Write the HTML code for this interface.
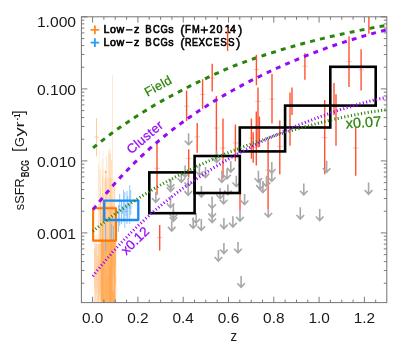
<!DOCTYPE html>
<html><head><meta charset="utf-8"><title>sSFR BCG</title>
<style>
html,body{margin:0;padding:0;background:#fff;}
body{width:407px;height:356px;overflow:hidden;font-family:"Liberation Sans",sans-serif;}
svg{display:block;will-change:transform;}
</style></head><body>
<svg width="407" height="356" viewBox="0 0 407 356">
<rect x="0" y="0" width="407" height="356" fill="#fff"/>
<defs><clipPath id="cp"><rect x="81.4" y="16.8" width="305.4" height="285.8"/></clipPath></defs>
<g stroke-width="1.8" fill="none">
<path d="M90.6 29.9 H99.2 M94.9 25.6 V34.2" stroke="#ff8a1e"/>
<path d="M90.6 42.6 H99.2 M94.9 38.3 V46.9" stroke="#2a9cf5"/>
</g>
<g font-family="'Liberation Sans', sans-serif" font-size="10.7" fill="#000" stroke="#000" stroke-width="0.62" stroke-linejoin="round">
<path d="M125.9 29.9 H132.5 M125.9 42.4 H132.5 M200.7 30.0 H207.9 M204.3 26.4 V33.6" stroke-width="1.35" fill="none"/>
<text transform="translate(103.40 33.4) scale(1.00 1)">L</text>
<text transform="translate(109.92 33.4) scale(1.00 1)">o</text>
<text transform="translate(116.60 33.4) scale(1.00 1)">w</text>
<text transform="translate(133.98 33.4) scale(1.00 1)">z</text>
<text transform="translate(145.28 33.4) scale(0.90 1)">B</text>
<text transform="translate(152.93 33.4) scale(0.88 1)">C</text>
<text transform="translate(160.38 33.4) scale(0.88 1)">G</text>
<text transform="translate(168.33 33.4) scale(1.00 1)">s</text>
<text transform="translate(180.23 34.4)" font-size="12.8" stroke-width="0.5">(</text>
<text transform="translate(184.93 33.4) scale(0.90 1)">F</text>
<text transform="translate(192.00 33.4) scale(0.87 1)">M</text>
<text transform="translate(209.38 33.4) scale(1.00 1)">2</text>
<text transform="translate(216.62 33.4) scale(1.00 1)">0</text>
<text transform="translate(224.82 33.4) scale(1.00 1)">1</text>
<text transform="translate(229.93 33.4) scale(1.00 1)">4</text>
<text transform="translate(238.02 34.4)" font-size="12.8" stroke-width="0.5">)</text>
<text transform="translate(103.40 45.9) scale(1.00 1)">L</text>
<text transform="translate(109.92 45.9) scale(1.00 1)">o</text>
<text transform="translate(116.60 45.9) scale(1.00 1)">w</text>
<text transform="translate(133.98 45.9) scale(1.00 1)">z</text>
<text transform="translate(145.28 45.9) scale(0.90 1)">B</text>
<text transform="translate(152.93 45.9) scale(0.88 1)">C</text>
<text transform="translate(160.38 45.9) scale(0.88 1)">G</text>
<text transform="translate(168.33 45.9) scale(1.00 1)">s</text>
<text transform="translate(180.23 46.9)" font-size="12.8" stroke-width="0.5">(</text>
<text transform="translate(184.98 45.9) scale(0.84 1)">R</text>
<text transform="translate(191.88 45.9) scale(0.84 1)">E</text>
<text transform="translate(198.45 45.9) scale(0.92 1)">X</text>
<text transform="translate(205.53 45.9) scale(0.88 1)">C</text>
<text transform="translate(213.38 45.9) scale(0.84 1)">E</text>
<text transform="translate(220.31 45.9) scale(0.92 1)">S</text>
<text transform="translate(227.91 45.9) scale(0.92 1)">S</text>
<text transform="translate(235.92 46.9)" font-size="12.8" stroke-width="0.5">)</text>
</g>
<g clip-path="url(#cp)">
<g stroke="#ff9a30" stroke-width="0.8" fill="none">
<rect x="100.9" y="240" width="15.3" height="63" fill="#ffb266" stroke="none" opacity="0.92"/>
<line x1="105.9" y1="197.5" x2="105.9" y2="310.0" opacity="0.20"/>
<line x1="102.1" y1="216.8" x2="102.1" y2="310.0" opacity="0.16"/>
<line x1="101.9" y1="215.4" x2="101.9" y2="310.0" opacity="0.11"/>
<line x1="107.5" y1="193.5" x2="107.5" y2="310.0" opacity="0.11"/>
<line x1="107.4" y1="231.3" x2="107.4" y2="310.0" opacity="0.12"/>
<line x1="104.3" y1="221.4" x2="104.3" y2="310.0" opacity="0.25"/>
<line x1="109.7" y1="209.8" x2="109.7" y2="310.0" opacity="0.26"/>
<line x1="101.7" y1="232.9" x2="101.7" y2="310.0" opacity="0.15"/>
<line x1="103.2" y1="195.9" x2="103.2" y2="310.0" opacity="0.15"/>
<line x1="113.2" y1="199.0" x2="113.2" y2="310.0" opacity="0.19"/>
<line x1="110.6" y1="208.6" x2="110.6" y2="310.0" opacity="0.19"/>
<line x1="101.9" y1="193.0" x2="101.9" y2="310.0" opacity="0.13"/>
<line x1="111.2" y1="211.4" x2="111.2" y2="310.0" opacity="0.15"/>
<line x1="109.8" y1="212.7" x2="109.8" y2="310.0" opacity="0.15"/>
<line x1="112.9" y1="224.9" x2="112.9" y2="310.0" opacity="0.14"/>
<line x1="109.6" y1="216.3" x2="109.6" y2="310.0" opacity="0.24"/>
<line x1="111.9" y1="204.4" x2="111.9" y2="310.0" opacity="0.26"/>
<line x1="102.8" y1="210.9" x2="102.8" y2="310.0" opacity="0.22"/>
<line x1="103.3" y1="214.4" x2="103.3" y2="310.0" opacity="0.11"/>
<line x1="111.0" y1="228.2" x2="111.0" y2="310.0" opacity="0.19"/>
<line x1="114.1" y1="205.7" x2="114.1" y2="310.0" opacity="0.21"/>
<line x1="109.9" y1="219.0" x2="109.9" y2="310.0" opacity="0.17"/>
<rect x="94.6" y="244" width="6.3" height="59" fill="#ffb56c" stroke="none" opacity="0.4"/>
<line x1="99.9" y1="259.4" x2="99.9" y2="296.9" opacity="0.25"/>
<line x1="94.8" y1="248.0" x2="94.8" y2="301.2" opacity="0.30"/>
<line x1="99.8" y1="228.4" x2="99.8" y2="294.6" opacity="0.25"/>
<line x1="94.5" y1="236.7" x2="94.5" y2="289.2" opacity="0.17"/>
<line x1="94.8" y1="251.1" x2="94.8" y2="288.2" opacity="0.19"/>
<line x1="97.0" y1="256.0" x2="97.0" y2="287.0" opacity="0.22"/>
<line x1="98.0" y1="256.5" x2="98.0" y2="305.5" opacity="0.28"/>
<line x1="96.2" y1="234.5" x2="96.2" y2="294.0" opacity="0.28"/>
<line x1="100.7" y1="222.1" x2="100.7" y2="289.4" opacity="0.18"/>
<rect x="100.8" y="206" width="15.2" height="35" fill="#ffb56c" stroke="none" opacity="0.42"/>
<rect x="103.5" y="178" width="12.0" height="28" fill="#ffb56c" stroke="none" opacity="0.16"/>
<line x1="102.6" y1="176.7" x2="102.6" y2="242.0" opacity="0.25"/>
<line x1="103.1" y1="150.2" x2="103.1" y2="242.0" opacity="0.22"/>
<line x1="105.0" y1="181.1" x2="105.0" y2="242.0" opacity="0.31"/>
<line x1="110.6" y1="178.4" x2="110.6" y2="242.0" opacity="0.25"/>
<line x1="110.3" y1="153.0" x2="110.3" y2="242.0" opacity="0.30"/>
<line x1="112.1" y1="198.1" x2="112.1" y2="242.0" opacity="0.29"/>
<line x1="105.4" y1="171.9" x2="105.4" y2="242.0" opacity="0.17"/>
<line x1="109.6" y1="153.4" x2="109.6" y2="242.0" opacity="0.16"/>
<line x1="102.2" y1="158.9" x2="102.2" y2="242.0" opacity="0.21"/>
<line x1="99.4" y1="150.0" x2="99.4" y2="242.0" opacity="0.18"/>
<line x1="100.3" y1="170.0" x2="100.3" y2="242.0" opacity="0.15"/>
<line x1="113.8" y1="183.8" x2="113.8" y2="242.0" opacity="0.18"/>
<line x1="102.9" y1="169.1" x2="102.9" y2="242.0" opacity="0.21"/>
<line x1="100.6" y1="196.7" x2="100.6" y2="242.0" opacity="0.32"/>
<line x1="106.7" y1="176.6" x2="106.7" y2="242.0" opacity="0.16"/>
<line x1="100.3" y1="168.8" x2="100.3" y2="242.0" opacity="0.20"/>
<line x1="113.7" y1="248.1" x2="113.7" y2="256.6" stroke="#fff" stroke-width="0.6" opacity="0.35"/>
<line x1="115.3" y1="266.4" x2="115.3" y2="277.6" stroke="#fff" stroke-width="0.6" opacity="0.35"/>
<line x1="109.8" y1="241.4" x2="109.8" y2="261.0" stroke="#fff" stroke-width="0.6" opacity="0.35"/>
<line x1="115.7" y1="283.2" x2="115.7" y2="306.5" stroke="#fff" stroke-width="0.6" opacity="0.35"/>
<line x1="106.0" y1="258.3" x2="106.0" y2="270.0" stroke="#fff" stroke-width="0.6" opacity="0.35"/>
<line x1="112.9" y1="266.6" x2="112.9" y2="291.8" stroke="#fff" stroke-width="0.6" opacity="0.35"/>
<line x1="107.0" y1="251.2" x2="107.0" y2="277.0" stroke="#fff" stroke-width="0.6" opacity="0.35"/>
<line x1="115.8" y1="282.6" x2="115.8" y2="308.4" stroke="#fff" stroke-width="0.6" opacity="0.35"/>
<line x1="113.5" y1="277.0" x2="113.5" y2="290.0" stroke="#fff" stroke-width="0.6" opacity="0.35"/>
<line x1="109.5" y1="257.8" x2="109.5" y2="266.4" stroke="#fff" stroke-width="0.6" opacity="0.35"/>
<line x1="96.5" y1="118.0" x2="96.5" y2="156.5" opacity="0.62"/>
<line x1="98.6" y1="164.7" x2="98.6" y2="300.0" opacity="0.30"/>
<line x1="100.5" y1="188.0" x2="100.5" y2="300.0" opacity="0.30"/>
<line x1="106.8" y1="156.0" x2="106.8" y2="300.0" opacity="0.35"/>
<line x1="108.6" y1="150.0" x2="108.6" y2="300.0" opacity="0.35"/>
<line x1="110.0" y1="148.0" x2="110.0" y2="300.0" opacity="0.35"/>
<line x1="111.5" y1="160.0" x2="111.5" y2="300.0" opacity="0.35"/>
<line x1="112.5" y1="75.0" x2="112.5" y2="300.0" opacity="0.28"/>
<line x1="114.5" y1="187.0" x2="114.5" y2="300.0" opacity="0.35"/>
<line x1="105.6" y1="170.0" x2="105.6" y2="300.0" opacity="0.30"/>
<line x1="103.0" y1="195.0" x2="103.0" y2="300.0" opacity="0.30"/>
<line x1="94.3" y1="137" x2="98.7" y2="137" opacity="0.6"/>
<circle cx="105.6" cy="172" r="0.9" fill="#ff9a30" stroke="none" opacity="0.8"/>
</g>
<g stroke="#58adff" stroke-width="0.8" fill="none">
<line x1="119.7" y1="194.0" x2="119.7" y2="226.0" opacity="0.85"/>
<line x1="121.5" y1="200.0" x2="121.5" y2="224.0" opacity="0.85"/>
<line x1="123.6" y1="189.8" x2="123.6" y2="222.0" opacity="0.85"/>
<line x1="124.8" y1="192.0" x2="124.8" y2="228.0" opacity="0.85"/>
<line x1="127.0" y1="191.0" x2="127.0" y2="224.0" opacity="0.85"/>
<line x1="127.8" y1="196.0" x2="127.8" y2="218.0" opacity="0.85"/>
<line x1="129.7" y1="185.1" x2="129.7" y2="224.0" opacity="0.85"/>
<line x1="130.7" y1="190.0" x2="130.7" y2="215.0" opacity="0.85"/>
<line x1="118.4" y1="205.0" x2="118.4" y2="232.0" opacity="0.85"/>
<line x1="126.0" y1="204.0" x2="126.0" y2="216.0" opacity="0.85"/>
<line x1="122.5" y1="206.0" x2="122.5" y2="214.0" opacity="0.85"/>
<line x1="105.5" y1="224.0" x2="105.5" y2="251.0" stroke-width="1" stroke="#74bcfa" opacity="0.9"/>
<line x1="111.5" y1="224.0" x2="111.5" y2="241.0" stroke-width="1" stroke="#74bcfa" opacity="0.9"/>
<line x1="113.5" y1="226.0" x2="113.5" y2="240.0" stroke-width="1" stroke="#74bcfa" opacity="0.9"/>
<line x1="117.9" y1="206.2" x2="121.5" y2="206.2" opacity="0.45"/>
<line x1="119.7" y1="210.2" x2="123.3" y2="210.2" opacity="0.45"/>
<line x1="121.8" y1="204.0" x2="125.4" y2="204.0" opacity="0.45"/>
<line x1="123.0" y1="211.5" x2="126.6" y2="211.5" opacity="0.45"/>
<line x1="125.2" y1="211.2" x2="128.8" y2="211.2" opacity="0.45"/>
<line x1="126.0" y1="206.6" x2="129.6" y2="206.6" opacity="0.45"/>
<line x1="127.9" y1="208.0" x2="131.5" y2="208.0" opacity="0.45"/>
<line x1="128.9" y1="206.4" x2="132.5" y2="206.4" opacity="0.45"/>
<line x1="116.6" y1="222.1" x2="120.2" y2="222.1" opacity="0.45"/>
<line x1="124.2" y1="208.9" x2="127.8" y2="208.9" opacity="0.45"/>
<line x1="120.7" y1="207.8" x2="124.3" y2="207.8" opacity="0.45"/>
</g>
<rect x="93.1" y="208.3" width="22.9" height="32.3" fill="none" stroke="#ff7606" stroke-width="2.1" stroke-linejoin="round"/>
<rect x="104.2" y="200.6" width="34.1" height="19.4" fill="none" stroke="#188bf5" stroke-width="2.3" stroke-linejoin="round"/>
<path d="M92.8 148.1 L95.8 145.7 L98.8 143.3 L101.8 140.9 L104.8 138.6 L107.8 136.3 L110.8 134.0 L113.7 131.8 L116.7 129.7 L119.7 127.5 L122.7 125.4 L125.7 123.4 L128.7 121.4 L131.7 119.4 L134.7 117.4 L137.7 115.5 L140.7 113.6 L143.7 111.7 L146.7 109.9 L149.6 108.1 L152.6 106.3 L155.6 104.5 L158.6 102.8 L161.6 101.1 L164.6 99.5 L167.6 97.8 L170.6 96.2 L173.6 94.6 L176.6 93.0 L179.6 91.5 L182.6 89.9 L185.6 88.4 L188.5 86.8 L191.5 85.3 L194.5 83.8 L197.5 82.3 L200.5 80.9 L203.5 79.5 L206.5 78.1 L209.5 76.7 L212.5 75.3 L215.5 73.9 L218.5 72.6 L221.5 71.3 L224.4 69.9 L227.4 68.7 L230.4 67.4 L233.4 66.1 L236.4 65.0 L239.4 63.9 L242.4 62.8 L245.4 61.7 L248.4 60.6 L251.4 59.6 L254.4 58.5 L257.4 57.5 L260.4 56.5 L263.3 55.5 L266.3 54.5 L269.3 53.6 L272.3 52.6 L275.3 51.7 L278.3 50.7 L281.3 49.8 L284.3 48.9 L287.3 48.0 L290.3 47.2 L293.3 46.3 L296.3 45.5 L299.2 44.6 L302.2 43.8 L305.2 43.0 L308.2 42.2 L311.2 41.4 L314.2 40.6 L317.2 39.8 L320.2 39.1 L323.2 38.4 L326.2 37.6 L329.2 36.9 L332.2 36.2 L335.2 35.6 L338.1 34.9 L341.1 34.2 L344.1 33.6 L347.1 33.0 L350.1 32.4 L353.1 31.8 L356.1 31.2 L359.1 30.5 L362.1 29.9 L365.1 29.3 L368.1 28.7 L371.1 28.1 L374.0 27.6 L377.0 27.0 L380.0 26.5 L383.0 26.0 L386.0 25.6 L389.0 25.2 L392.0 24.8" fill="none" stroke="#2a8409" stroke-width="3.0" stroke-dasharray="4.9 5.25" stroke-dashoffset="-0.35"/>
<g stroke="#ff5232" stroke-width="1.4" fill="none">
<line x1="157.0" y1="143.5" x2="157.0" y2="194.7"/>
<line x1="159.7" y1="225.0" x2="159.7" y2="250.6"/>
<line x1="186.6" y1="90.4" x2="186.6" y2="120.9"/>
<line x1="188.7" y1="149.2" x2="188.7" y2="177.5"/>
<line x1="197.2" y1="122.9" x2="197.2" y2="152.8"/>
<line x1="202.6" y1="79.3" x2="202.6" y2="108.8"/>
<line x1="212.2" y1="63.8" x2="212.2" y2="91.6"/>
<line x1="216.4" y1="96.0" x2="216.4" y2="156.0"/>
<line x1="223.0" y1="118.4" x2="223.0" y2="178.6"/>
<line x1="227.6" y1="28.2" x2="227.6" y2="51.0"/>
<line x1="235.4" y1="124.6" x2="235.4" y2="161.2"/>
<line x1="240.0" y1="160.0" x2="240.0" y2="210.6"/>
<line x1="251.4" y1="118.5" x2="251.4" y2="158.8"/>
<line x1="253.2" y1="132.2" x2="253.2" y2="162.8"/>
<line x1="256.4" y1="54.7" x2="256.4" y2="85.3"/>
<line x1="258.0" y1="87.6" x2="258.0" y2="147.5"/>
<line x1="256.3" y1="111.5" x2="256.3" y2="165.5"/>
<line x1="259.4" y1="116.5" x2="259.4" y2="147.0"/>
<line x1="268.1" y1="140.0" x2="268.1" y2="209.6"/>
<line x1="272.0" y1="74.0" x2="272.0" y2="123.5"/>
<line x1="279.8" y1="120.6" x2="279.8" y2="174.2"/>
<line x1="290.0" y1="92.4" x2="290.0" y2="145.8"/>
<line x1="292.0" y1="87.5" x2="292.0" y2="115.0"/>
<line x1="304.9" y1="53.2" x2="304.9" y2="79.7"/>
<line x1="324.7" y1="100.0" x2="324.7" y2="174.2"/>
<line x1="334.0" y1="83.0" x2="334.0" y2="115.0"/>
<line x1="336.0" y1="94.3" x2="336.0" y2="145.7"/>
<line x1="349.0" y1="36.2" x2="349.0" y2="87.0"/>
<line x1="355.7" y1="127.0" x2="355.7" y2="175.7"/>
<line x1="361.1" y1="49.2" x2="361.1" y2="90.6"/>
<line x1="368.9" y1="16.8" x2="368.9" y2="33.7"/>
</g>
<g stroke="#ff5232" stroke-width="0.8" fill="none" opacity="0.45">
<line x1="154.2" y1="168.3" x2="159.8" y2="168.3"/>
<line x1="156.9" y1="237.4" x2="162.5" y2="237.4"/>
<line x1="183.8" y1="106.2" x2="189.4" y2="106.2"/>
<line x1="185.9" y1="158.6" x2="191.5" y2="158.6"/>
<line x1="194.4" y1="136.9" x2="200.0" y2="136.9"/>
<line x1="199.8" y1="94.5" x2="205.4" y2="94.5"/>
<line x1="209.4" y1="78.0" x2="215.0" y2="78.0"/>
<line x1="213.6" y1="128.0" x2="219.2" y2="128.0"/>
<line x1="220.2" y1="148.0" x2="225.8" y2="148.0"/>
<line x1="232.6" y1="143.0" x2="238.2" y2="143.0"/>
<line x1="248.6" y1="138.0" x2="254.2" y2="138.0"/>
<line x1="250.4" y1="147.0" x2="256.0" y2="147.0"/>
<line x1="253.6" y1="69.5" x2="259.2" y2="69.5"/>
<line x1="255.2" y1="101.4" x2="260.8" y2="101.4"/>
<line x1="265.3" y1="170.0" x2="270.9" y2="170.0"/>
<line x1="269.2" y1="99.0" x2="274.8" y2="99.0"/>
<line x1="277.0" y1="146.4" x2="282.6" y2="146.4"/>
<line x1="302.1" y1="66.2" x2="307.7" y2="66.2"/>
<line x1="321.9" y1="137.6" x2="327.5" y2="137.6"/>
<line x1="346.2" y1="61.4" x2="351.8" y2="61.4"/>
<line x1="352.9" y1="148.0" x2="358.5" y2="148.0"/>
<line x1="358.3" y1="70.0" x2="363.9" y2="70.0"/>
</g>
<path d="M92.8 209.9 L95.8 206.1 L98.8 202.3 L101.8 198.7 L104.8 195.1 L107.8 191.5 L110.8 188.1 L113.7 184.7 L116.7 181.3 L119.7 178.1 L122.7 174.9 L125.7 171.7 L128.7 168.7 L131.7 165.6 L134.7 162.7 L137.7 159.8 L140.7 156.9 L143.7 154.2 L146.7 151.4 L149.6 148.7 L152.6 146.1 L155.6 143.5 L158.6 141.0 L161.6 138.5 L164.6 136.0 L167.6 133.6 L170.6 131.2 L173.6 128.9 L176.6 126.6 L179.6 124.4 L182.6 122.2 L185.6 120.0 L188.5 117.9 L191.5 115.9 L194.5 113.8 L197.5 111.8 L200.5 109.8 L203.5 107.9 L206.5 106.0 L209.5 104.1 L212.5 102.2 L215.5 100.4 L218.5 98.6 L221.5 96.8 L224.4 95.1 L227.4 93.3 L230.4 91.6 L233.4 90.0 L236.4 88.3 L239.4 86.7 L242.4 85.1 L245.4 83.5 L248.4 82.0 L251.4 80.4 L254.4 78.9 L257.4 77.4 L260.4 76.0 L263.3 74.5 L266.3 73.1 L269.3 71.7 L272.3 70.3 L275.3 68.9 L278.3 67.5 L281.3 66.2 L284.3 64.9 L287.3 63.6 L290.3 62.3 L293.3 61.0 L296.3 59.8 L299.2 58.5 L302.2 57.3 L305.2 56.1 L308.2 54.9 L311.2 53.8 L314.2 52.6 L317.2 51.5 L320.2 50.4 L323.2 49.3 L326.2 48.2 L329.2 47.1 L332.2 46.1 L335.2 45.0 L338.1 44.0 L341.1 43.1 L344.1 42.1 L347.1 41.1 L350.1 40.2 L353.1 39.3 L356.1 38.4 L359.1 37.4 L362.1 36.5 L365.1 35.6 L368.1 34.7 L371.1 33.9 L374.0 33.1 L377.0 32.3 L380.0 31.5 L383.0 30.8 L386.0 30.1 L389.0 29.4 L392.0 28.8" fill="none" stroke="#9808f8" stroke-width="3.0" stroke-dasharray="4.9 5.25" stroke-dashoffset="-0.35"/>
<g stroke="#a8a8a8" stroke-width="1.6" fill="none" stroke-linecap="butt" stroke-linejoin="miter">
<path d="M188.6 133.2 V144.6 M184.8 140.7 L188.6 144.8 L192.4 140.7"/>
<path d="M155.8 192.0 V202.0 M152.0 198.1 L155.8 202.2 L159.6 198.1"/>
<path d="M170.6 179.0 V188.1 M166.8 184.2 L170.6 188.3 L174.4 184.2"/>
<path d="M170.6 181.0 V191.4 M166.8 187.5 L170.6 191.6 L174.4 187.5"/>
<path d="M170.5 196.0 V207.3 M166.7 203.4 L170.5 207.5 L174.3 203.4"/>
<path d="M173.4 204.5 V218.4 M169.6 214.5 L173.4 218.6 L177.2 214.5"/>
<path d="M173.4 210.0 V221.1 M169.6 217.2 L173.4 221.3 L177.2 217.2"/>
<path d="M171.7 220.8 V230.8 M167.9 226.9 L171.7 231.0 L175.5 226.9"/>
<path d="M181.3 173.0 V182.1 M177.5 178.2 L181.3 182.3 L185.1 178.2"/>
<path d="M185.1 165.5 V176.9 M181.3 173.0 L185.1 177.1 L188.9 173.0"/>
<path d="M188.2 177.5 V186.4 M184.4 182.5 L188.2 186.6 L192.0 182.5"/>
<path d="M188.2 185.0 V195.0 M184.4 191.1 L188.2 195.2 L192.0 191.1"/>
<path d="M199.4 164.6 V175.2 M195.6 171.3 L199.4 175.4 L203.2 171.3"/>
<path d="M205.5 167.0 V177.4 M201.7 173.5 L205.5 177.6 L209.3 173.5"/>
<path d="M201.4 186.0 V196.8 M197.6 192.9 L201.4 197.0 L205.2 192.9"/>
<path d="M193.2 217.4 V228.0 M189.4 224.1 L193.2 228.2 L197.0 224.1"/>
<path d="M196.1 213.0 V222.8 M192.3 218.9 L196.1 223.0 L199.9 218.9"/>
<path d="M201.3 219.1 V230.2 M197.5 226.3 L201.3 230.4 L205.1 226.3"/>
<path d="M212.1 196.5 V208.2 M208.3 204.3 L212.1 208.4 L215.9 204.3"/>
<path d="M212.2 207.0 V217.3 M208.4 213.4 L212.2 217.5 L216.0 213.4"/>
<path d="M212.2 212.0 V222.4 M208.4 218.5 L212.2 222.6 L216.0 218.5"/>
<path d="M216.7 151.0 V162.4 M212.9 158.5 L216.7 162.6 L220.5 158.5"/>
<path d="M221.9 170.7 V182.1 M218.1 178.2 L221.9 182.3 L225.7 178.2"/>
<path d="M227.0 169.0 V178.7 M223.2 174.8 L227.0 178.9 L230.8 174.8"/>
<path d="M230.8 161.2 V171.8 M227.0 167.9 L230.8 172.0 L234.6 167.9"/>
<path d="M236.3 175.8 V186.4 M232.5 182.5 L236.3 186.6 L240.1 182.5"/>
<path d="M220.1 187.9 V198.4 M216.3 194.5 L220.1 198.6 L223.9 194.5"/>
<path d="M223.6 193.0 V203.6 M219.8 199.7 L223.6 203.8 L227.4 199.7"/>
<path d="M227.9 184.4 V194.5 M224.1 190.6 L227.9 194.7 L231.7 190.6"/>
<path d="M244.6 193.9 V204.4 M240.8 200.5 L244.6 204.6 L248.4 200.5"/>
<path d="M258.4 170.7 V182.1 M254.6 178.2 L258.4 182.3 L262.2 178.2"/>
<path d="M260.0 178.4 V189.0 M256.2 185.1 L260.0 189.2 L263.8 185.1"/>
<path d="M262.9 181.0 V192.4 M259.1 188.5 L262.9 192.6 L266.7 188.5"/>
<path d="M266.5 175.8 V186.4 M262.7 182.5 L266.5 186.6 L270.3 182.5"/>
<path d="M271.8 162.0 V172.9 M268.0 169.0 L271.8 173.1 L275.6 169.0"/>
<path d="M271.8 170.7 V181.2 M268.0 177.3 L271.8 181.4 L275.6 177.3"/>
<path d="M223.9 217.9 V228.5 M220.1 224.6 L223.9 228.7 L227.7 224.6"/>
<path d="M232.9 216.2 V226.8 M229.1 222.9 L232.9 227.0 L236.7 222.9"/>
<path d="M240.0 210.2 V220.8 M236.2 216.9 L240.0 221.0 L243.8 216.9"/>
<path d="M268.3 209.3 V216.9 M264.5 213.0 L268.3 217.1 L272.1 213.0"/>
<path d="M223.9 242.9 V253.4 M220.1 249.5 L223.9 253.6 L227.7 249.5"/>
<path d="M238.0 242.0 V252.6 M234.2 248.7 L238.0 252.8 L241.8 248.7"/>
<path d="M218.4 250.1 V260.9 M214.6 257.0 L218.4 261.1 L222.2 257.0"/>
<path d="M241.1 276.0 V287.1 M237.3 283.2 L241.1 287.3 L244.9 283.2"/>
<path d="M303.8 183.4 V194.7 M300.0 190.8 L303.8 194.9 L307.6 190.8"/>
<path d="M326.6 160.8 V172.2 M322.8 168.3 L326.6 172.4 L330.4 168.3"/>
<path d="M368.6 182.4 V194.0 M364.8 190.1 L368.6 194.2 L372.4 190.1"/>
<path d="M300.3 207.3 V218.9 M296.5 215.0 L300.3 219.1 L304.1 215.0"/>
<path d="M319.7 208.9 V220.4 M315.9 216.5 L319.7 220.6 L323.5 216.5"/>
</g>
<g stroke="#000" stroke-width="2.6" fill="none" stroke-linejoin="miter">
<rect x="149.3" y="172.4" width="45.3" height="40.8"/>
<rect x="194.6" y="156.0" width="45.2" height="37.0"/>
<rect x="239.8" y="127.5" width="45.3" height="23.9"/>
<rect x="285.1" y="105.6" width="45.2" height="21.9"/>
<rect x="330.3" y="66.8" width="45.4" height="38.8"/>
</g>
<path d="M92.8 231.3 L94.8 229.7 L96.8 228.1 L98.8 226.5 L100.8 224.9 L102.8 223.3 L104.8 221.8 L106.8 220.3 L108.8 218.8 L110.8 217.3 L112.7 215.8 L114.7 214.3 L116.7 212.9 L118.7 211.5 L120.7 210.1 L122.7 208.7 L124.7 207.3 L126.7 206.0 L128.7 204.6 L130.7 203.3 L132.7 202.0 L134.7 200.7 L136.7 199.4 L138.7 198.1 L140.7 196.9 L142.7 195.6 L144.7 194.4 L146.7 193.2 L148.7 192.0 L150.6 190.8 L152.6 189.6 L154.6 188.4 L156.6 187.3 L158.6 186.1 L160.6 185.0 L162.6 183.9 L164.6 182.8 L166.6 181.7 L168.6 180.6 L170.6 179.5 L172.6 178.5 L174.6 177.4 L176.6 176.4 L178.6 175.4 L180.6 174.3 L182.6 173.3 L184.6 172.3 L186.5 171.3 L188.5 170.4 L190.5 169.4 L192.5 168.4 L194.5 167.5 L196.5 166.5 L198.5 165.6 L200.5 164.7 L202.5 163.8 L204.5 162.9 L206.5 162.0 L208.5 161.1 L210.5 160.2 L212.5 159.3 L214.5 158.5 L216.5 157.6 L218.5 156.7 L220.5 155.9 L222.5 155.1 L224.4 154.2 L226.4 153.4 L228.4 152.6 L230.4 151.8 L232.4 151.0 L234.4 150.2 L236.4 149.4 L238.4 148.7 L240.4 147.9 L242.4 147.1 L244.4 146.4 L246.4 145.6 L248.4 144.9 L250.4 144.2 L252.4 143.4 L254.4 142.7 L256.4 142.0 L258.4 141.3 L260.4 140.6 L262.3 140.0 L264.3 139.3 L266.3 138.6 L268.3 137.9 L270.3 137.3 L272.3 136.6 L274.3 136.0 L276.3 135.3 L278.3 134.7 L280.3 134.1 L282.3 133.4 L284.3 132.8 L286.3 132.2 L288.3 131.6 L290.3 131.0 L292.3 130.4 L294.3 129.8 L296.3 129.2 L298.3 128.7 L300.2 128.1 L302.2 127.5 L304.2 127.0 L306.2 126.4 L308.2 125.9 L310.2 125.3 L312.2 124.8 L314.2 124.2 L316.2 123.7 L318.2 123.2 L320.2 122.7 L322.2 122.2 L324.2 121.7 L326.2 121.2 L328.2 120.7 L330.2 120.2 L332.2 119.7 L334.2 119.3 L336.1 118.8 L338.1 118.4 L340.1 117.9 L342.1 117.5 L344.1 117.0 L346.1 116.6 L348.1 116.2 L350.1 115.8 L352.1 115.4 L354.1 115.0 L356.1 114.6 L358.1 114.2 L360.1 113.9 L362.1 113.5 L364.1 113.1 L366.1 112.8 L368.1 112.4 L370.1 112.1 L372.1 111.8 L374.0 111.5 L376.0 111.2 L378.0 110.9 L380.0 110.6 L382.0 110.3 L384.0 110.0 L386.0 109.8 L388.0 109.5 L390.0 109.3 L392.0 109.1" fill="none" stroke="#2a8409" stroke-width="3" stroke-dasharray="1.1 2.3"/>
<path d="M92.8 276.2 L94.8 273.7 L96.8 271.1 L98.8 268.7 L100.8 266.2 L102.8 263.8 L104.8 261.4 L106.8 259.0 L108.8 256.7 L110.8 254.4 L112.7 252.1 L114.7 249.9 L116.7 247.7 L118.7 245.5 L120.7 243.3 L122.7 241.2 L124.7 239.1 L126.7 237.1 L128.7 235.0 L130.7 233.0 L132.7 231.0 L134.7 229.1 L136.7 227.1 L138.7 225.2 L140.7 223.3 L142.7 221.5 L144.7 219.6 L146.7 217.8 L148.7 216.0 L150.6 214.2 L152.6 212.5 L154.6 210.8 L156.6 209.1 L158.6 207.4 L160.6 205.7 L162.6 204.1 L164.6 202.4 L166.6 200.8 L168.6 199.2 L170.6 197.7 L172.6 196.1 L174.6 194.6 L176.6 193.1 L178.6 191.6 L180.6 190.1 L182.6 188.6 L184.6 187.2 L186.5 185.8 L188.5 184.4 L190.5 183.0 L192.5 181.6 L194.5 180.2 L196.5 178.9 L198.5 177.5 L200.5 176.2 L202.5 174.9 L204.5 173.6 L206.5 172.3 L208.5 171.1 L210.5 169.8 L212.5 168.6 L214.5 167.3 L216.5 166.1 L218.5 164.9 L220.5 163.7 L222.5 162.5 L224.4 161.4 L226.4 160.2 L228.4 159.1 L230.4 157.9 L232.4 156.8 L234.4 155.7 L236.4 154.6 L238.4 153.5 L240.4 152.4 L242.4 151.4 L244.4 150.3 L246.4 149.3 L248.4 148.2 L250.4 147.2 L252.4 146.2 L254.4 145.2 L256.4 144.2 L258.4 143.2 L260.4 142.2 L262.3 141.3 L264.3 140.3 L266.3 139.4 L268.3 138.4 L270.3 137.5 L272.3 136.6 L274.3 135.7 L276.3 134.8 L278.3 133.9 L280.3 133.0 L282.3 132.1 L284.3 131.2 L286.3 130.3 L288.3 129.5 L290.3 128.6 L292.3 127.8 L294.3 127.0 L296.3 126.1 L298.3 125.3 L300.2 124.5 L302.2 123.7 L304.2 122.9 L306.2 122.1 L308.2 121.3 L310.2 120.5 L312.2 119.8 L314.2 119.0 L316.2 118.3 L318.2 117.5 L320.2 116.8 L322.2 116.0 L324.2 115.3 L326.2 114.6 L328.2 113.9 L330.2 113.2 L332.2 112.5 L334.2 111.8 L336.1 111.2 L338.1 110.5 L340.1 109.8 L342.1 109.2 L344.1 108.6 L346.1 107.9 L348.1 107.3 L350.1 106.7 L352.1 106.1 L354.1 105.5 L356.1 104.9 L358.1 104.4 L360.1 103.8 L362.1 103.2 L364.1 102.7 L366.1 102.2 L368.1 101.6 L370.1 101.1 L372.1 100.6 L374.0 100.1 L376.0 99.7 L378.0 99.2 L380.0 98.7 L382.0 98.3 L384.0 97.9 L386.0 97.5 L388.0 97.0 L390.0 96.7 L392.0 96.3" fill="none" stroke="#9808f8" stroke-width="3" stroke-dasharray="1.1 2.3"/>
</g>
<g stroke="#5a5a5a" stroke-width="0.8" fill="none">
<line x1="92.6" y1="302.6" x2="92.6" y2="296.8"/>
<line x1="92.6" y1="16.8" x2="92.6" y2="22.6"/>
<line x1="103.9" y1="302.6" x2="103.9" y2="299.6"/>
<line x1="103.9" y1="16.8" x2="103.9" y2="19.8"/>
<line x1="115.2" y1="302.6" x2="115.2" y2="299.6"/>
<line x1="115.2" y1="16.8" x2="115.2" y2="19.8"/>
<line x1="126.6" y1="302.6" x2="126.6" y2="299.6"/>
<line x1="126.6" y1="16.8" x2="126.6" y2="19.8"/>
<line x1="137.9" y1="302.6" x2="137.9" y2="296.8"/>
<line x1="137.9" y1="16.8" x2="137.9" y2="22.6"/>
<line x1="149.2" y1="302.6" x2="149.2" y2="299.6"/>
<line x1="149.2" y1="16.8" x2="149.2" y2="19.8"/>
<line x1="160.6" y1="302.6" x2="160.6" y2="299.6"/>
<line x1="160.6" y1="16.8" x2="160.6" y2="19.8"/>
<line x1="171.9" y1="302.6" x2="171.9" y2="299.6"/>
<line x1="171.9" y1="16.8" x2="171.9" y2="19.8"/>
<line x1="183.2" y1="302.6" x2="183.2" y2="296.8"/>
<line x1="183.2" y1="16.8" x2="183.2" y2="22.6"/>
<line x1="194.5" y1="302.6" x2="194.5" y2="299.6"/>
<line x1="194.5" y1="16.8" x2="194.5" y2="19.8"/>
<line x1="205.8" y1="302.6" x2="205.8" y2="299.6"/>
<line x1="205.8" y1="16.8" x2="205.8" y2="19.8"/>
<line x1="217.2" y1="302.6" x2="217.2" y2="299.6"/>
<line x1="217.2" y1="16.8" x2="217.2" y2="19.8"/>
<line x1="228.5" y1="302.6" x2="228.5" y2="296.8"/>
<line x1="228.5" y1="16.8" x2="228.5" y2="22.6"/>
<line x1="239.8" y1="302.6" x2="239.8" y2="299.6"/>
<line x1="239.8" y1="16.8" x2="239.8" y2="19.8"/>
<line x1="251.2" y1="302.6" x2="251.2" y2="299.6"/>
<line x1="251.2" y1="16.8" x2="251.2" y2="19.8"/>
<line x1="262.5" y1="302.6" x2="262.5" y2="299.6"/>
<line x1="262.5" y1="16.8" x2="262.5" y2="19.8"/>
<line x1="273.8" y1="302.6" x2="273.8" y2="296.8"/>
<line x1="273.8" y1="16.8" x2="273.8" y2="22.6"/>
<line x1="285.1" y1="302.6" x2="285.1" y2="299.6"/>
<line x1="285.1" y1="16.8" x2="285.1" y2="19.8"/>
<line x1="296.5" y1="302.6" x2="296.5" y2="299.6"/>
<line x1="296.5" y1="16.8" x2="296.5" y2="19.8"/>
<line x1="307.8" y1="302.6" x2="307.8" y2="299.6"/>
<line x1="307.8" y1="16.8" x2="307.8" y2="19.8"/>
<line x1="319.1" y1="302.6" x2="319.1" y2="296.8"/>
<line x1="319.1" y1="16.8" x2="319.1" y2="22.6"/>
<line x1="330.4" y1="302.6" x2="330.4" y2="299.6"/>
<line x1="330.4" y1="16.8" x2="330.4" y2="19.8"/>
<line x1="341.8" y1="302.6" x2="341.8" y2="299.6"/>
<line x1="341.8" y1="16.8" x2="341.8" y2="19.8"/>
<line x1="353.1" y1="302.6" x2="353.1" y2="299.6"/>
<line x1="353.1" y1="16.8" x2="353.1" y2="19.8"/>
<line x1="364.4" y1="302.6" x2="364.4" y2="296.8"/>
<line x1="364.4" y1="16.8" x2="364.4" y2="22.6"/>
<line x1="375.7" y1="302.6" x2="375.7" y2="299.6"/>
<line x1="375.7" y1="16.8" x2="375.7" y2="19.8"/>
<line x1="81.4" y1="16.9" x2="87.4" y2="16.9"/>
<line x1="386.8" y1="16.9" x2="380.8" y2="16.9"/>
<line x1="81.4" y1="88.9" x2="87.4" y2="88.9"/>
<line x1="386.8" y1="88.9" x2="380.8" y2="88.9"/>
<line x1="81.4" y1="67.2" x2="84.4" y2="67.2"/>
<line x1="386.8" y1="67.2" x2="383.8" y2="67.2"/>
<line x1="81.4" y1="54.5" x2="84.4" y2="54.5"/>
<line x1="386.8" y1="54.5" x2="383.8" y2="54.5"/>
<line x1="81.4" y1="45.6" x2="84.4" y2="45.6"/>
<line x1="386.8" y1="45.6" x2="383.8" y2="45.6"/>
<line x1="81.4" y1="38.6" x2="84.4" y2="38.6"/>
<line x1="386.8" y1="38.6" x2="383.8" y2="38.6"/>
<line x1="81.4" y1="32.9" x2="84.4" y2="32.9"/>
<line x1="386.8" y1="32.9" x2="383.8" y2="32.9"/>
<line x1="81.4" y1="28.1" x2="84.4" y2="28.1"/>
<line x1="386.8" y1="28.1" x2="383.8" y2="28.1"/>
<line x1="81.4" y1="23.9" x2="84.4" y2="23.9"/>
<line x1="386.8" y1="23.9" x2="383.8" y2="23.9"/>
<line x1="81.4" y1="20.2" x2="84.4" y2="20.2"/>
<line x1="386.8" y1="20.2" x2="383.8" y2="20.2"/>
<line x1="81.4" y1="160.9" x2="87.4" y2="160.9"/>
<line x1="386.8" y1="160.9" x2="380.8" y2="160.9"/>
<line x1="81.4" y1="139.2" x2="84.4" y2="139.2"/>
<line x1="386.8" y1="139.2" x2="383.8" y2="139.2"/>
<line x1="81.4" y1="126.5" x2="84.4" y2="126.5"/>
<line x1="386.8" y1="126.5" x2="383.8" y2="126.5"/>
<line x1="81.4" y1="117.6" x2="84.4" y2="117.6"/>
<line x1="386.8" y1="117.6" x2="383.8" y2="117.6"/>
<line x1="81.4" y1="110.6" x2="84.4" y2="110.6"/>
<line x1="386.8" y1="110.6" x2="383.8" y2="110.6"/>
<line x1="81.4" y1="104.9" x2="84.4" y2="104.9"/>
<line x1="386.8" y1="104.9" x2="383.8" y2="104.9"/>
<line x1="81.4" y1="100.1" x2="84.4" y2="100.1"/>
<line x1="386.8" y1="100.1" x2="383.8" y2="100.1"/>
<line x1="81.4" y1="95.9" x2="84.4" y2="95.9"/>
<line x1="386.8" y1="95.9" x2="383.8" y2="95.9"/>
<line x1="81.4" y1="92.2" x2="84.4" y2="92.2"/>
<line x1="386.8" y1="92.2" x2="383.8" y2="92.2"/>
<line x1="81.4" y1="232.9" x2="87.4" y2="232.9"/>
<line x1="386.8" y1="232.9" x2="380.8" y2="232.9"/>
<line x1="81.4" y1="211.2" x2="84.4" y2="211.2"/>
<line x1="386.8" y1="211.2" x2="383.8" y2="211.2"/>
<line x1="81.4" y1="198.5" x2="84.4" y2="198.5"/>
<line x1="386.8" y1="198.5" x2="383.8" y2="198.5"/>
<line x1="81.4" y1="189.6" x2="84.4" y2="189.6"/>
<line x1="386.8" y1="189.6" x2="383.8" y2="189.6"/>
<line x1="81.4" y1="182.6" x2="84.4" y2="182.6"/>
<line x1="386.8" y1="182.6" x2="383.8" y2="182.6"/>
<line x1="81.4" y1="176.9" x2="84.4" y2="176.9"/>
<line x1="386.8" y1="176.9" x2="383.8" y2="176.9"/>
<line x1="81.4" y1="172.1" x2="84.4" y2="172.1"/>
<line x1="386.8" y1="172.1" x2="383.8" y2="172.1"/>
<line x1="81.4" y1="167.9" x2="84.4" y2="167.9"/>
<line x1="386.8" y1="167.9" x2="383.8" y2="167.9"/>
<line x1="81.4" y1="164.2" x2="84.4" y2="164.2"/>
<line x1="386.8" y1="164.2" x2="383.8" y2="164.2"/>
<line x1="81.4" y1="283.2" x2="84.4" y2="283.2"/>
<line x1="386.8" y1="283.2" x2="383.8" y2="283.2"/>
<line x1="81.4" y1="270.5" x2="84.4" y2="270.5"/>
<line x1="386.8" y1="270.5" x2="383.8" y2="270.5"/>
<line x1="81.4" y1="261.6" x2="84.4" y2="261.6"/>
<line x1="386.8" y1="261.6" x2="383.8" y2="261.6"/>
<line x1="81.4" y1="254.6" x2="84.4" y2="254.6"/>
<line x1="386.8" y1="254.6" x2="383.8" y2="254.6"/>
<line x1="81.4" y1="248.9" x2="84.4" y2="248.9"/>
<line x1="386.8" y1="248.9" x2="383.8" y2="248.9"/>
<line x1="81.4" y1="244.1" x2="84.4" y2="244.1"/>
<line x1="386.8" y1="244.1" x2="383.8" y2="244.1"/>
<line x1="81.4" y1="239.9" x2="84.4" y2="239.9"/>
<line x1="386.8" y1="239.9" x2="383.8" y2="239.9"/>
<line x1="81.4" y1="236.2" x2="84.4" y2="236.2"/>
<line x1="386.8" y1="236.2" x2="383.8" y2="236.2"/>
</g>
<rect x="81.4" y="16.8" width="305.4" height="285.8" fill="none" stroke="#747474" stroke-width="1"/>
<g font-family="'Liberation Sans', sans-serif" font-size="13.8" fill="#1a1a1a">
<text x="36.9" y="27.1" textLength="39.2" lengthAdjust="spacingAndGlyphs">1.000</text>
<text x="36.9" y="94.6" textLength="39.2" lengthAdjust="spacingAndGlyphs">0.100</text>
<text x="36.9" y="166.6" textLength="39.2" lengthAdjust="spacingAndGlyphs">0.010</text>
<text x="36.9" y="238.6" textLength="39.2" lengthAdjust="spacingAndGlyphs">0.001</text>
<text x="81.9" y="323.2" textLength="21.4" lengthAdjust="spacingAndGlyphs">0.0</text>
<text x="127.2" y="323.2" textLength="21.4" lengthAdjust="spacingAndGlyphs">0.2</text>
<text x="172.5" y="323.2" textLength="21.4" lengthAdjust="spacingAndGlyphs">0.4</text>
<text x="217.8" y="323.2" textLength="21.4" lengthAdjust="spacingAndGlyphs">0.6</text>
<text x="263.1" y="323.2" textLength="21.4" lengthAdjust="spacingAndGlyphs">0.8</text>
<text x="308.4" y="323.2" textLength="21.4" lengthAdjust="spacingAndGlyphs">1.0</text>
<text x="353.7" y="323.2" textLength="21.4" lengthAdjust="spacingAndGlyphs">1.2</text>
<text x="230.6" y="341.2" font-size="14.5" textLength="6.6" lengthAdjust="spacingAndGlyphs">z</text>
</g>
<g transform="translate(24.4 210.2) rotate(-90)" fill="#1a1a1a" font-family="'Liberation Sans', sans-serif">
<text x="0" y="0" font-size="12.9" textLength="31.8" lengthAdjust="spacingAndGlyphs">sSFR</text>
<text x="33.0" y="4.2" font-size="10.8" font-weight="bold" textLength="17.4" lengthAdjust="spacingAndGlyphs">BCG</text>
<text x="58.2" y="0" font-size="16.2">[</text>
<text x="63.3" y="0" font-size="12.9">G</text>
<text x="73.6" y="0" font-size="12.9" textLength="15.4" lengthAdjust="spacingAndGlyphs">yr</text>
<text x="90.0" y="-4.6" font-size="9" font-weight="bold" textLength="6.4" lengthAdjust="spacingAndGlyphs">-1</text>
<text x="95.4" y="0" font-size="16.2">]</text>
</g>
<g font-family="'Liberation Sans', sans-serif" stroke-width="0.25">
<text transform="translate(147.5 96.8) rotate(-29)" font-size="12.6" fill="#2a8409" stroke="#2a8409" textLength="28.8" lengthAdjust="spacing">Field</text>
<text transform="translate(131.2 154.6) rotate(-40.3)" font-size="12.9" fill="#9808f8" stroke="#9808f8" textLength="43.2" lengthAdjust="spacing">Cluster</text>
<text transform="translate(126.2 255.6) rotate(-44.6)" font-size="13.4" fill="#9808f8" stroke="#9808f8" textLength="33.4" lengthAdjust="spacing">x0.12</text>
<text transform="translate(346.0 128.6) rotate(-4)" font-size="14.4" fill="#2a8409" stroke="#2a8409" textLength="35.6" lengthAdjust="spacingAndGlyphs">x0.07</text>
</g>
</svg>
</body></html>
